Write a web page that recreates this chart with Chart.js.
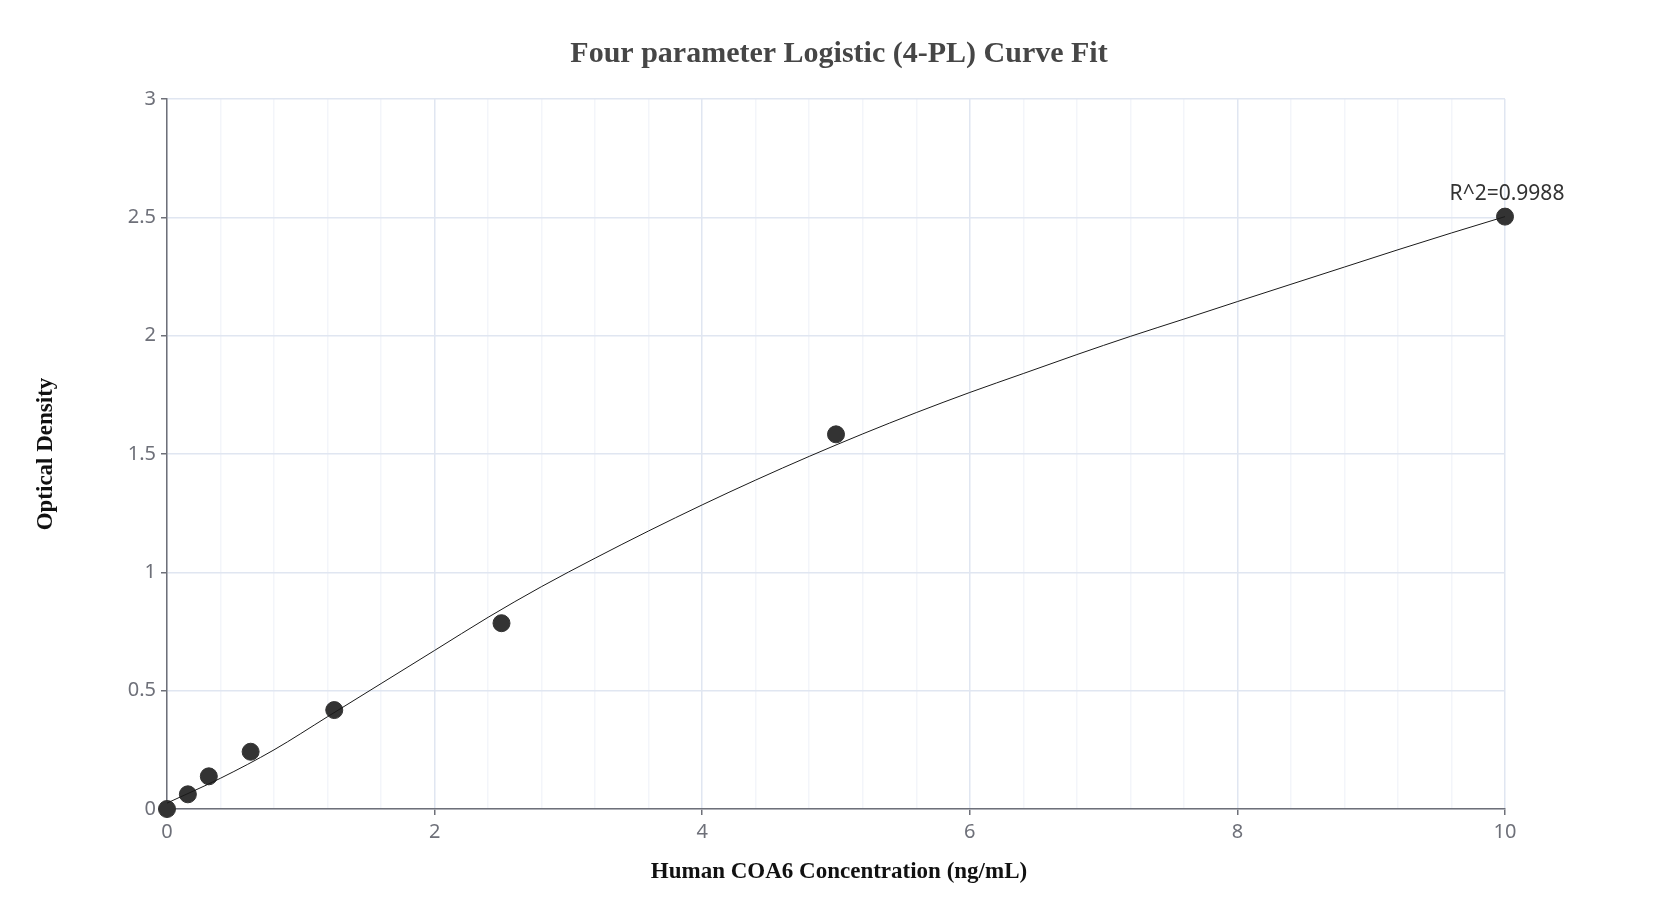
<!DOCTYPE html>
<html>
<head>
<meta charset="utf-8">
<title>Four parameter Logistic (4-PL) Curve Fit</title>
<script src="https://cdn.jsdelivr.net/npm/chart.js@4/dist/chart.umd.min.js"></script>
<style>
  html, body { margin: 0; padding: 0; background: #fff; }
  #chart { display: block; }
</style>
</head>
<body>
<canvas id="chart" width="1673" height="924"></canvas>
<script>
// Standards (concentration ng/mL -> OD)
const concentrations = [0, 0.156, 0.3125, 0.625, 1.25, 2.5, 5, 10];
const odValues = [0, 0.062, 0.138, 0.242, 0.418, 0.785, 1.583, 2.503];

// Fitted curve
const curveX = [0, 0.4, 0.8, 1.2, 1.6, 2.0, 2.4, 2.8, 3.2, 3.6, 4.0, 4.4, 4.8, 5.2, 5.6, 6.0, 6.4, 6.8, 7.2, 7.6, 8.0, 8.4, 8.8, 9.2, 9.6, 10];
const curveY = [0.025, 0.13, 0.25, 0.39, 0.53, 0.67, 0.81, 0.94, 1.06, 1.175, 1.285, 1.39, 1.49, 1.585, 1.675, 1.76, 1.84, 1.92, 1.997, 2.07, 2.144, 2.217, 2.29, 2.363, 2.434, 2.503];

const yTicks = [0, 0.5, 1, 1.5, 2, 2.5, 3];
const xLabelStep = 2;
const rSquared = 'R^2=0.9988';

const chartTitle = 'Four parameter Logistic (4-PL) Curve Fit';
const xTitle = 'Human COA6 Concentration (ng/mL)';
const yTitle = 'Optical Density';

function isMajor(v) {
    return Math.abs(v / xLabelStep - Math.round(v / xLabelStep)) < 1e-6;
}

// titles and the R^2 note
const textPlugin = {
    id: 'texts',
    afterDraw(chart) {
        const ctx = chart.ctx;
        const area = chart.chartArea;
        ctx.save();
        ctx.textAlign = 'center';
        ctx.textBaseline = 'middle';

        ctx.fillStyle = '#464646';
        ctx.font = 'bold 30px "Liberation Serif", "Times New Roman", serif';
        ctx.fillText(chartTitle, 839, 54);

        ctx.fillStyle = '#111';
        ctx.font = 'bold 23px "Liberation Serif", "Times New Roman", serif';
        ctx.fillText(xTitle, (area.left + area.right) / 2 + 3, 872);

        ctx.save();
        ctx.translate(46, (area.top + area.bottom) / 2);
        ctx.rotate(-Math.PI / 2);
        ctx.fillText(yTitle, 0, 0);
        ctx.restore();

        const pts = chart.getDatasetMeta(1).data;
        const last = pts[pts.length - 1];
        ctx.fillStyle = '#333';
        ctx.font = '21px "Noto Sans", "DejaVu Sans", sans-serif';
        ctx.fillText(rSquared, last.x + 2, last.y - 23);
        ctx.restore();
    }
};

new Chart(document.getElementById('chart'), {
    type: 'scatter',
    data: {
        datasets: [
            {
                label: 'Fit',
                data: curveX.map((x, i) => ({ x: x, y: curveY[i] })),
                showLine: true,
                borderColor: '#1a1a1a',
                borderWidth: 1,
                pointRadius: 0,
                cubicInterpolationMode: 'monotone',
                clip: false
            },
            {
                label: 'Standards',
                data: concentrations.map((x, i) => ({ x: x, y: odValues[i] })),
                pointRadius: 8.5,
                pointHoverRadius: 8.5,
                backgroundColor: '#333333',
                borderColor: '#333333',
                clip: false
            }
        ]
    },
    options: {
        responsive: false,
        animation: false,
        devicePixelRatio: 1,
        layout: { padding: { left: 0, top: 99, right: 168, bottom: 0 } },
        plugins: {
            legend: { display: false },
            tooltip: { enabled: false }
        },
        scales: {
            x: {
                type: 'linear',
                min: 0,
                max: 10,
                afterFit: s => { s.height = 115; },
                ticks: {
                    stepSize: 0.4,
                    autoSkip: false,
                    maxRotation: 0,
                    padding: 5,
                    color: '#6e7079',
                    font: { family: '"Noto Sans", "DejaVu Sans", sans-serif', size: 20 },
                    callback: v => isMajor(v) ? String(Math.round(v)) : ''
                },
                grid: {
                    color: c => isMajor(c.tick.value) ? '#e0e6f1' : '#f3f5fa',
                    lineWidth: 1.5,
                    tickLength: 6,
                    tickColor: c => isMajor(c.tick.value) ? '#6e7079' : 'rgba(0,0,0,0)'
                },
                border: { color: '#6e7079', width: 1.5 }
            },
            y: {
                type: 'linear',
                min: yTicks[0],
                max: yTicks[yTicks.length - 1],
                afterFit: s => { s.width = 167; },
                afterBuildTicks: s => { s.ticks = yTicks.map(v => ({ value: v })); },
                ticks: {
                    padding: 5,
                    color: '#6e7079',
                    font: { family: '"Noto Sans", "DejaVu Sans", sans-serif', size: 20 },
                    callback: v => String(v)
                },
                grid: {
                    color: '#e0e6f1',
                    lineWidth: 1.5,
                    tickLength: 6,
                    tickColor: '#6e7079'
                },
                border: { color: '#6e7079', width: 1.5 }
            }
        }
    },
    plugins: [textPlugin]
});
</script>
</body>
</html>
